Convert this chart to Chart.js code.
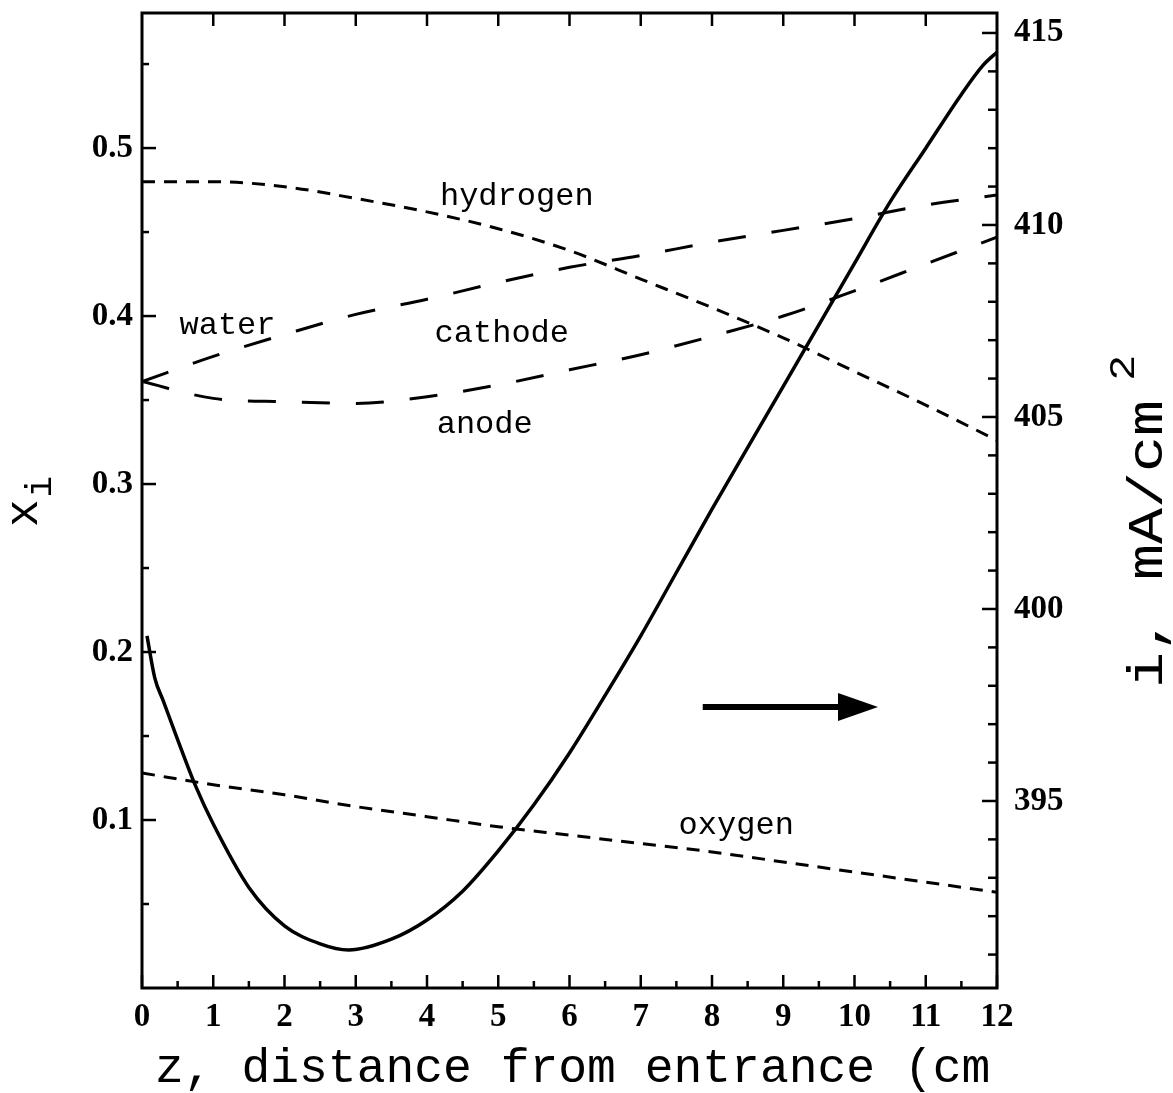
<!DOCTYPE html>
<html>
<head>
<meta charset="utf-8">
<title>Mole fractions and current density along the channel</title>
<script src="https://cdn.jsdelivr.net/npm/chart.js@4.4.0/dist/chart.umd.min.js"></script>
<style>
  html, body { margin: 0; padding: 0; background: #fff; }
</style>
</head>
<body>
<canvas id="chart" width="1173" height="1093"></canvas>
<script>
// distance from entrance (cm) where the mole fractions are sampled
const zGrid = [0, 1, 2, 3, 4, 5, 6, 7, 8, 9, 10, 11, 12];

// mole fractions x_i
const hydrogen     = [0.480, 0.480, 0.477, 0.470, 0.462, 0.452, 0.439, 0.422, 0.405, 0.387, 0.367, 0.347, 0.326];
const cathodeWater = [0.361, 0.376, 0.389, 0.401, 0.410, 0.420, 0.429, 0.436, 0.444, 0.451, 0.458, 0.466, 0.472];
const anodeWater   = [0.361, 0.351, 0.349, 0.348, 0.352, 0.359, 0.368, 0.377, 0.388, 0.400, 0.415, 0.431, 0.447];
const oxygen       = [0.128, 0.121, 0.115, 0.108, 0.102, 0.096, 0.091, 0.086, 0.081, 0.075, 0.069, 0.063, 0.057];

// local current density i (mA/cm^2), right axis
const zCurrent = [0.07, 0.18, 0.3, 0.5, 0.75, 1.0, 1.5, 2.0, 2.5, 2.9, 3.5, 4.0, 4.5, 5.0, 5.5,
                  6.0, 6.5, 7.0, 7.5, 8.0, 8.5, 9.0, 9.5, 10.0, 10.5, 11.0, 11.5, 11.8, 12.0];
const current  = [399.3, 398.2, 397.6, 396.6, 395.4, 394.4, 392.75, 391.75, 391.28, 391.12, 391.4, 391.9, 392.65, 393.7, 394.9,
                  396.25, 397.75, 399.3, 400.95, 402.6, 404.2, 405.8, 407.4, 409.0, 410.6, 412.0, 413.4, 414.15, 414.5];

// tick labels
const zTicks = [0, 1, 2, 3, 4, 5, 6, 7, 8, 9, 10, 11, 12];
const xiTicks = [0.1, 0.2, 0.3, 0.4, 0.5];
const iTicks = [395, 400, 405, 410, 415];

// curve names, placed in (z, x_i) units
const curveNames = [
  { text: 'hydrogen', z: 5.26, v: 0.4661 },
  { text: 'water',    z: 1.20, v: 0.3893 },
  { text: 'cathode',  z: 5.05, v: 0.3845 },
  { text: 'anode',    z: 4.81, v: 0.3304 },
  { text: 'oxygen',   z: 8.34, v: 0.0917 }
];

// arrow pointing at the right-hand axis, in (z, i) units
const arrowFrom = { z: 7.87, i: 397.45 };
const arrowTo   = { z: 10.33, i: 397.45 };

const MONO = '"Liberation Mono", "Courier New", monospace';
const SERIF = '"Liberation Serif", "Times New Roman", serif';

const pts = (xs, ys) => xs.map((x, k) => ({ x: x, y: ys[k] }));

const whiteBg = {
  id: 'whiteBg',
  beforeDraw(chart) {
    const c = chart.ctx;
    c.save();
    c.fillStyle = '#fff';
    c.fillRect(0, 0, chart.width, chart.height);
    c.restore();
  }
};

// frame plus inward-pointing tick marks on all four sides
const frameTicks = {
  id: 'frameTicks',
  afterDatasetsDraw(chart) {
    const c = chart.ctx;
    const a = chart.chartArea;
    const sx = chart.scales.x, sy = chart.scales.y, sr = chart.scales.y1;
    c.save();
    c.strokeStyle = '#000';
    c.lineCap = 'butt';

    c.lineWidth = 2.5;
    // bottom: majors every 1 cm, minors every 0.5
    for (let k = 0; k <= 24; k++) {
      const px = sx.getPixelForValue(k / 2);
      const len = k % 2 === 0 ? 13 : 7;
      c.beginPath(); c.moveTo(px, a.bottom); c.lineTo(px, a.bottom - len); c.stroke();
    }
    // top: every 1 cm
    for (let k = 1; k < 12; k++) {
      const px = sx.getPixelForValue(k);
      c.beginPath(); c.moveTo(px, a.top); c.lineTo(px, a.top + 13); c.stroke();
    }
    // left: majors every 0.1, minors every 0.05
    for (let k = 1; k <= 11; k++) {
      const py = sy.getPixelForValue(k * 0.05);
      const len = k % 2 === 0 ? 14 : 7;
      c.beginPath(); c.moveTo(a.left, py); c.lineTo(a.left + len, py); c.stroke();
    }
    // right: majors every 5, minors every 1
    for (let v = 391; v <= 415; v++) {
      const py = sr.getPixelForValue(v);
      const len = v % 5 === 0 ? 15 : 9;
      c.beginPath(); c.moveTo(a.right, py); c.lineTo(a.right - len, py); c.stroke();
    }

    c.lineWidth = 3;
    c.strokeRect(a.left, a.top, a.right - a.left, a.bottom - a.top);
    c.restore();
  }
};

// curve names, the arrow and the three axis titles
const annotations = {
  id: 'annotations',
  afterDraw(chart) {
    const c = chart.ctx;
    const sx = chart.scales.x, sy = chart.scales.y, sr = chart.scales.y1;
    c.save();
    c.fillStyle = '#000';
    c.strokeStyle = '#000';

    c.font = '32px ' + MONO;
    c.textAlign = 'center';
    c.textBaseline = 'alphabetic';
    curveNames.forEach(n => {
      c.fillText(n.text, sx.getPixelForValue(n.z), sy.getPixelForValue(n.v));
    });

    // arrow
    const x0 = sx.getPixelForValue(arrowFrom.z);
    const x1 = sx.getPixelForValue(arrowTo.z);
    const ay = sr.getPixelForValue(arrowFrom.i);
    c.lineWidth = 6;
    c.beginPath(); c.moveTo(x0, ay); c.lineTo(x1 - 36, ay); c.stroke();
    c.beginPath();
    c.moveTo(x1, ay);
    c.lineTo(x1 - 40, ay - 14);
    c.lineTo(x1 - 40, ay + 14);
    c.closePath();
    c.fill();

    // x title
    c.font = '48px ' + MONO;
    c.textAlign = 'left';
    c.fillText('z, distance from entrance (cm', 155, 1082);

    // left title: x with subscript i
    c.save();
    c.translate(37, 527);
    c.rotate(-Math.PI / 2);
    c.font = '46px ' + MONO;
    c.fillText('x', 0, 0);
    const wx = c.measureText('x').width;
    c.font = '36px ' + MONO;
    c.fillText('i', wx + 2, 14);
    c.restore();

    // right title: i, mA/cm with superscript 2 (glyphs drawn a bit wide)
    c.save();
    c.translate(1162, 688);
    c.rotate(-Math.PI / 2);
    c.scale(1.2, 1);
    c.font = '50px ' + MONO;
    c.fillText('i, mA/cm', 0, 0);
    const wt = c.measureText('i, mA/cm').width;
    c.font = '36px ' + MONO;
    c.fillText('2', wt + 16, -28);
    c.restore();

    c.restore();
  }
};

const shortDash = [13, 9];
const longDash = [28, 26];

const line = (data, axis, dash, width) => ({
  data: data,
  yAxisID: axis,
  borderColor: '#000',
  borderWidth: width,
  borderDash: dash,
  pointRadius: 0,
  fill: false,
  cubicInterpolationMode: 'monotone'
});

const tickFont = { family: SERIF, size: 33, weight: 'bold' };
const noGrid = { display: false, drawTicks: false };

// keep the plot frame where the axes put it, without label overhang padding
const fixPadding = s => {
  s.paddingTop = 0;
  s.paddingBottom = 0;
  s.paddingLeft = 0;
  s.paddingRight = 0;
};

new Chart(document.getElementById('chart'), {
  type: 'line',
  data: {
    datasets: [
      line(pts(zGrid, hydrogen), 'y', shortDash, 3),
      line(pts(zGrid, cathodeWater), 'y', longDash, 3),
      line(pts(zGrid, anodeWater), 'y', longDash, 3),
      line(pts(zGrid, oxygen), 'y', shortDash, 3),
      line(pts(zCurrent, current), 'y1', [], 3.5)
    ]
  },
  options: {
    responsive: false,
    animation: false,
    devicePixelRatio: 1,
    layout: { padding: { top: 13, left: 0, right: 0, bottom: 0 } },
    plugins: {
      legend: { display: false },
      tooltip: { enabled: false }
    },
    scales: {
      x: {
        type: 'linear',
        position: 'bottom',
        min: 0,
        max: 12,
        grid: noGrid,
        border: { display: false },
        afterBuildTicks: s => { s.ticks = zTicks.map(v => ({ value: v })); },
        afterFit: s => { s.height = 105; fixPadding(s); },
        ticks: {
          color: '#000',
          font: tickFont,
          padding: 10,
          maxRotation: 0,
          autoSkip: false,
          callback: v => String(v)
        }
      },
      y: {
        type: 'linear',
        position: 'left',
        min: 0,
        max: 0.5804,
        grid: noGrid,
        border: { display: false },
        afterBuildTicks: s => { s.ticks = xiTicks.map(v => ({ value: v })); },
        afterFit: s => { s.width = 142; fixPadding(s); },
        ticks: {
          color: '#000',
          font: tickFont,
          padding: 9,
          callback: v => v.toFixed(1)
        }
      },
      y1: {
        type: 'linear',
        position: 'right',
        min: 390.13,
        max: 415.52,
        grid: noGrid,
        border: { display: false },
        afterBuildTicks: s => { s.ticks = iTicks.map(v => ({ value: v })); },
        afterFit: s => { s.width = 176; fixPadding(s); },
        ticks: {
          color: '#000',
          font: tickFont,
          padding: 17,
          callback: v => String(v)
        }
      }
    }
  },
  plugins: [whiteBg, frameTicks, annotations]
});
</script>
</body>
</html>
